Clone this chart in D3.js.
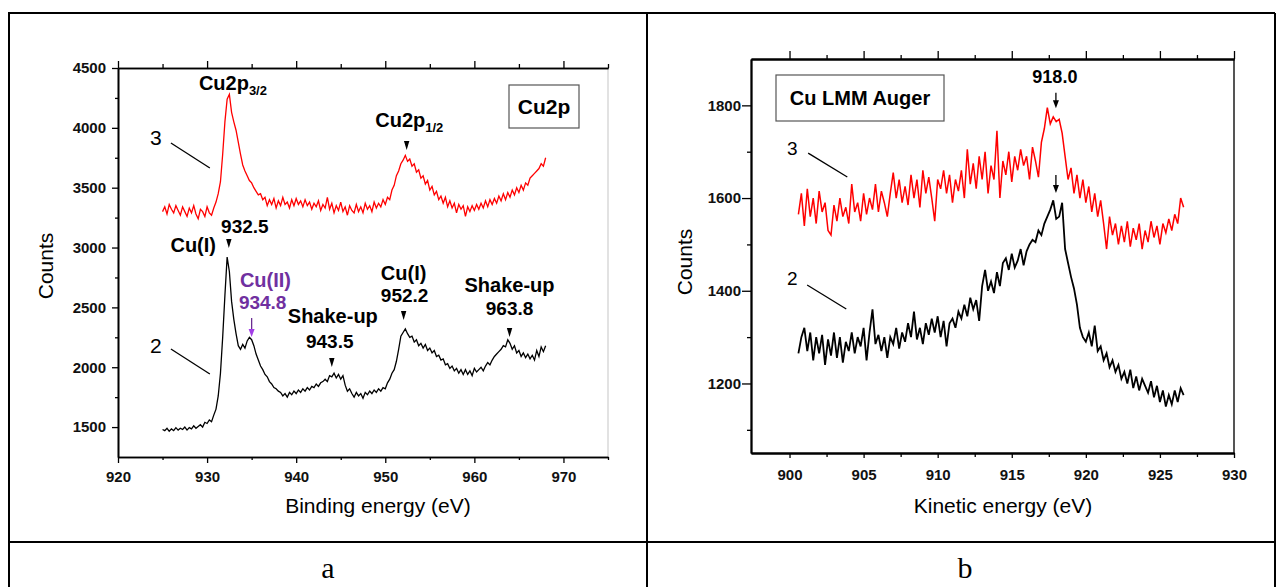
<!DOCTYPE html>
<html>
<head>
<meta charset="utf-8">
<script src="https://cdn.jsdelivr.net/npm/d3@7/dist/d3.min.js"></script>
<style>
  body { margin: 0; background: #fff; }
  svg { display: block; font-family: "Liberation Sans", Arial, sans-serif; }
</style>
</head>
<body>
<div id="container"></div>
<script>
const W = 1277;
const H = 587;
const FONT = '"Liberation Sans", Arial, sans-serif';

// panel a, Cu2p region: one row per eV, 0.25 eV step from 925 eV
const cu2pStart = 925;
const cu2pStep = 0.25;
const cu2pSample3 = [
  3300, 3340, 3280, 3360, // 925
  3320, 3290, 3350, 3310,
  3270, 3340, 3300, 3260,
  3330, 3290, 3350, 3280,
  3240, 3320, 3300, 3260,
  3340, 3290, 3270, 3330, // 930
  3380, 3450, 3550, 3780,
  4050, 4240, 4280, 4130,
  4050, 3980, 3880, 3780,
  3690, 3640, 3600, 3560,
  3540, 3500, 3470, 3440, // 935
  3450, 3400, 3420, 3350,
  3400, 3360, 3410, 3330,
  3390, 3350, 3420, 3360,
  3380, 3330, 3400, 3350,
  3410, 3360, 3390, 3340, // 940
  3400, 3350, 3380, 3320,
  3370, 3340, 3390, 3310,
  3360, 3330, 3420, 3320,
  3370, 3290, 3350, 3310,
  3380, 3300, 3340, 3270, // 945
  3350, 3310, 3290, 3360,
  3300, 3340, 3290, 3370,
  3320, 3350, 3300, 3380,
  3330, 3370, 3340, 3400,
  3360, 3420, 3400, 3480, // 950
  3520, 3600, 3640, 3700,
  3730, 3770, 3720, 3740,
  3680, 3700, 3630, 3650,
  3580, 3600, 3530, 3560,
  3480, 3510, 3440, 3470, // 955
  3400, 3430, 3370, 3420,
  3340, 3390, 3330, 3370,
  3290, 3360, 3320, 3350,
  3260, 3340, 3300, 3350,
  3310, 3360, 3320, 3370, // 960
  3330, 3390, 3340, 3400,
  3360, 3410, 3370, 3430,
  3390, 3450, 3400, 3460,
  3420, 3480, 3440, 3500,
  3460, 3520, 3480, 3540, // 965
  3520, 3580, 3600, 3620,
  3640, 3660, 3700, 3680,
  3750
];
const cu2pSample2 = [
  1480, 1470, 1490, 1465, // 925
  1485, 1470, 1495, 1475,
  1490, 1480, 1500, 1475,
  1495, 1485, 1510, 1490,
  1505, 1520, 1500, 1540,
  1530, 1560, 1545, 1600, // 930
  1650, 1760, 1950, 2250,
  2600, 2920, 2800, 2550,
  2400, 2280, 2180, 2150,
  2190, 2160, 2220, 2250,
  2230, 2180, 2110, 2060, // 935
  2010, 1980, 1940, 1920,
  1880, 1860, 1830, 1820,
  1800, 1790, 1760, 1780,
  1750, 1790, 1770, 1800,
  1780, 1810, 1790, 1820, // 940
  1800, 1830, 1810, 1840,
  1830, 1860, 1840, 1870,
  1880, 1900, 1880, 1930,
  1920, 1950, 1910, 1940,
  1900, 1930, 1850, 1800, // 945
  1820, 1780, 1750, 1790,
  1760, 1780, 1740, 1790,
  1770, 1800, 1780, 1810,
  1790, 1820, 1800, 1830,
  1820, 1870, 1900, 1950, // 950
  1980, 2050, 2150, 2260,
  2290, 2320, 2280, 2250,
  2260, 2210, 2230, 2180,
  2200, 2160, 2190, 2140,
  2160, 2120, 2140, 2090, // 955
  2100, 2060, 2070, 2020,
  2030, 1990, 2010, 1970,
  1990, 1950, 1980, 1940,
  1980, 1940, 1970, 1930,
  1990, 1960, 1980, 2000, // 960
  1970, 2010, 2040, 2020,
  2060, 2090, 2110, 2130,
  2150, 2180, 2170, 2230,
  2200, 2150, 2180, 2120,
  2140, 2090, 2120, 2080, // 965
  2110, 2070, 2100, 2060,
  2140, 2090, 2170, 2130,
  2180
];

// panel b, Cu LMM Auger: one row per eV, 0.2 eV step from 900.6 eV
const augerStart = 900.6;
const augerStep = 0.2;
const augerSample3 = [
  1565, 1610, 1540, 1620, 1560, // 900.6
  1600, 1545, 1615, 1570, 1590,
  1530, 1520, 1585, 1550, 1600,
  1560, 1580, 1545, 1630, 1570,
  1590, 1550, 1610, 1565, 1600, // 904.6
  1575, 1630, 1570, 1615, 1590,
  1560, 1610, 1655, 1600, 1640,
  1590, 1625, 1585, 1650, 1600,
  1640, 1580, 1660, 1610, 1645,
  1600, 1550, 1640, 1620, 1660, // 909.6
  1610, 1650, 1590, 1640, 1615,
  1660, 1600, 1705, 1630, 1675,
  1620, 1690, 1640, 1700, 1610,
  1670, 1640, 1745, 1600, 1680,
  1650, 1700, 1635, 1690, 1660, // 914.6
  1705, 1670, 1690, 1640, 1710,
  1680, 1645, 1720, 1750, 1795,
  1760, 1775, 1765, 1770, 1740,
  1690, 1640, 1665, 1610, 1650,
  1600, 1640, 1590, 1625, 1570, // 919.6
  1610, 1560, 1595, 1545, 1490,
  1560, 1520, 1545, 1500, 1540,
  1505, 1550, 1495, 1535, 1510,
  1545, 1490, 1530, 1505, 1550,
  1515, 1540, 1500, 1545, 1525, // 924.6
  1555, 1530, 1565, 1545, 1600,
  1580
];
const augerSample2 = [
  1265, 1300, 1320, 1270, 1310, // 900.6
  1250, 1300, 1265, 1305, 1240,
  1295, 1260, 1310, 1255, 1300,
  1245, 1290, 1270, 1310, 1265,
  1300, 1280, 1320, 1250, 1310, // 904.6
  1360, 1285, 1305, 1270, 1300,
  1255, 1300, 1285, 1320, 1275,
  1310, 1290, 1330, 1300, 1355,
  1295, 1320, 1285, 1330, 1305,
  1340, 1310, 1345, 1300, 1335, // 909.6
  1280, 1330, 1340, 1320, 1355,
  1340, 1370, 1345, 1385, 1360,
  1380, 1335, 1410, 1445, 1400,
  1420, 1395, 1440, 1410, 1460,
  1470, 1445, 1480, 1450, 1465, // 914.6
  1490, 1455, 1485, 1500, 1510,
  1505, 1530, 1520, 1545, 1560,
  1575, 1595, 1555, 1560, 1590,
  1490, 1460, 1430, 1405, 1370,
  1320, 1300, 1290, 1310, 1280, // 919.6
  1325, 1270, 1280, 1250, 1265,
  1235, 1250, 1225, 1240, 1210,
  1225, 1200, 1230, 1190, 1215,
  1185, 1210, 1195, 1180, 1205,
  1170, 1195, 1160, 1185, 1150, // 924.6
  1175, 1155, 1185, 1160, 1190,
  1175
];

// tick labels
const cu2pXTicks = [920, 930, 940, 950, 960, 970];
const cu2pXMinor = [925, 935, 945, 955, 965, 975];
const cu2pYTicks = [1500, 2000, 2500, 3000, 3500, 4000, 4500];
const cu2pYMinor = [1750, 2250, 2750, 3250, 3750, 4250];
const augerXTicks = [900, 905, 910, 915, 920, 925, 930];
const augerXMinor = [902.5, 907.5, 912.5, 917.5, 922.5, 927.5];
const augerYTicks = [1200, 1400, 1600, 1800];
const augerYMinor = [1100, 1300, 1500, 1700];

const fmt = d3.format("d");

function toPoints(values, start, step) {
  return values.map((c, i) => ({ e: start + i * step, c: c }));
}

const svg = d3
  .select("#container")
  .append("svg")
  .attr("width", W)
  .attr("height", H);

svg.append("rect").attr("width", W).attr("height", H).attr("fill", "#fff");

// table frame
const frame = svg.append("g").attr("stroke", "#000").attr("stroke-width", 2);
[[8, 13, 1275, 13], [8, 542, 1275, 542], [9, 13, 9, 587], [647, 13, 647, 587], [1275, 13, 1275, 587]]
  .forEach(l => frame.append("line").attr("x1", l[0]).attr("y1", l[1]).attr("x2", l[2]).attr("y2", l[3]));

svg.append("text").attr("x", 328).attr("y", 578).attr("text-anchor", "middle")
  .style("font-family", '"Liberation Serif", "Times New Roman", serif').style("font-size", "30px").text("a");
svg.append("text").attr("x", 965).attr("y", 578).attr("text-anchor", "middle")
  .style("font-family", '"Liberation Serif", "Times New Roman", serif').style("font-size", "30px").text("b");

function styleAxis(g, width) {
  g.attr("font-family", FONT).attr("font-size", 15).attr("font-weight", "bold");
  g.selectAll("path.domain").attr("stroke-width", width);
  g.selectAll(".tick line").attr("stroke-width", 1.3);
  g.selectAll(".tick text").attr("fill", "#111");
}

function tri(g, x, yTip, color) {
  g.append("path")
    .attr("d", `M${x - 2.7},${yTip - 9}L${x + 2.7},${yTip - 9}L${x},${yTip}Z`)
    .attr("fill", color);
}

function arrow(g, x, yTop, yTip, color, headColor) {
  g.append("line").attr("x1", x).attr("x2", x).attr("y1", yTop).attr("y2", yTip - 6)
    .attr("stroke", color).attr("stroke-width", 1.3);
  g.append("path")
    .attr("d", `M${x - 3},${yTip - 8}L${x + 3},${yTip - 8}L${x},${yTip}Z`)
    .attr("fill", headColor || color);
}

function label(g, x, y, text, opts) {
  const t = g.append("text").attr("x", x).attr("y", y)
    .attr("text-anchor", opts.anchor || "middle")
    .style("font-size", (opts.size || 20) + "px")
    .style("font-weight", opts.weight || "bold")
    .attr("fill", opts.color || "#000");
  t.append("tspan").text(text);
  if (opts.sub) {
    t.append("tspan").attr("dy", 5).style("font-size", "13px").text(opts.sub);
  }
  return t;
}

// ---------------- PANEL A ----------------
const xa = d3.scaleLinear().domain([920, 975]).range([118, 608]);
const ya = d3.scaleLinear().domain([1250, 4500]).range([457, 68]);
const pa = svg.append("g");

pa.append("line").attr("x1", 608).attr("x2", 608).attr("y1", 68).attr("y2", 457)
  .attr("stroke", "#e2e2e2").attr("stroke-width", 2);

const lineA = d3.line().x(d => xa(d.e)).y(d => ya(d.c));
pa.append("path").datum(toPoints(cu2pSample3, cu2pStart, cu2pStep))
  .attr("d", lineA).attr("fill", "none").attr("stroke", "#ff0000").attr("stroke-width", 1.3);
pa.append("path").datum(toPoints(cu2pSample2, cu2pStart, cu2pStep))
  .attr("d", lineA).attr("fill", "none").attr("stroke", "#000").attr("stroke-width", 1.3);

pa.append("g").attr("transform", "translate(0,457)")
  .call(d3.axisBottom(xa).tickValues(cu2pXTicks).tickFormat(fmt).tickSize(6).tickSizeOuter(0).tickPadding(8))
  .call(g => styleAxis(g, 1.6));
pa.append("g").attr("transform", "translate(0,457)")
  .call(d3.axisBottom(xa).tickValues(cu2pXMinor).tickSize(3).tickSizeOuter(0).tickFormat(""))
  .call(g => styleAxis(g, 1.6));
pa.append("g").attr("transform", "translate(0,68)")
  .call(d3.axisTop(xa).tickValues(cu2pXTicks).tickSize(7).tickSizeOuter(0).tickFormat(""))
  .call(g => styleAxis(g, 1.6));
pa.append("g").attr("transform", "translate(0,68)")
  .call(d3.axisTop(xa).tickValues(cu2pXMinor).tickSize(4).tickSizeOuter(0).tickFormat(""))
  .call(g => styleAxis(g, 1.6));
pa.append("g").attr("transform", "translate(118,0)")
  .call(d3.axisLeft(ya).tickValues(cu2pYTicks).tickFormat(fmt).tickSize(6).tickSizeOuter(0).tickPadding(6))
  .call(g => styleAxis(g, 1.6));
pa.append("g").attr("transform", "translate(118,0)")
  .call(d3.axisLeft(ya).tickValues(cu2pYMinor).tickSize(3).tickSizeOuter(0).tickFormat(""))
  .call(g => styleAxis(g, 1.6));

pa.append("text").attr("transform", "translate(53,266) rotate(-90)")
  .attr("text-anchor", "middle").style("font-size", "21px").text("Counts");
pa.append("text").attr("x", 378).attr("y", 513)
  .attr("text-anchor", "middle").style("font-size", "21px").text("Binding energy (eV)");

// legend box
pa.append("rect").attr("x", 509).attr("y", 85).attr("width", 70).attr("height", 43)
  .attr("fill", "#fff").attr("stroke", "#555").attr("stroke-width", 1.2);
label(pa, 544, 114, "Cu2p", { size: 21 });

// curve numbers
label(pa, xa(924.26), ya(3857), "3", { size: 21, weight: "normal" });
pa.append("line").attr("x1", xa(925.94)).attr("y1", ya(3873)).attr("x2", xa(930.31)).attr("y2", ya(3665))
  .attr("stroke", "#000").attr("stroke-width", 1.3);
label(pa, xa(924.26), ya(2119), "2", { size: 21, weight: "normal" });
pa.append("line").attr("x1", xa(925.94)).attr("y1", ya(2152)).attr("x2", xa(930.31)).attr("y2", ya(1943))
  .attr("stroke", "#000").attr("stroke-width", 1.3);

// peak annotations
label(pa, xa(932.9), ya(4316), "Cu2p", { size: 20, sub: "3/2" });
label(pa, xa(952.7), ya(4007), "Cu2p", { size: 20, sub: "1/2" });
tri(pa, xa(952.4), ya(3815), "#000");

label(pa, xa(934.24), ya(3122), "932.5", { size: 19 });
label(pa, xa(931.0), ya(2963), "Cu(I)", { size: 20, anchor: "end" });
tri(pa, xa(932.44), ya(2996), "#000");

label(pa, xa(933.68), ya(2670), "Cu(II)", { size: 20, anchor: "start", color: "#7030a0" });
label(pa, xa(933.57), ya(2487), "934.8", { size: 19, anchor: "start", color: "#7030a0" });
arrow(pa, xa(935.0), ya(2411), ya(2253), "#6a2c91", "#a23ee6");

label(pa, xa(939.06), ya(2370), "Shake-up", { size: 20, anchor: "start" });
label(pa, xa(943.77), ya(2161), "943.5", { size: 19 });
tri(pa, xa(944.0), ya(2002), "#000");

label(pa, xa(952.06), ya(2729), "Cu(I)", { size: 20 });
label(pa, xa(952.17), ya(2545), "952.2", { size: 19 });
tri(pa, xa(952.06), ya(2395), "#000");

label(pa, xa(963.95), ya(2629), "Shake-up", { size: 20 });
label(pa, xa(963.95), ya(2436), "963.8", { size: 19 });
tri(pa, xa(963.95), ya(2253), "#000");

// ---------------- PANEL B ----------------
const xb = d3.scaleLinear().domain([897.4, 930]).range([751, 1234]);
const yb = d3.scaleLinear().domain([1050, 1900]).range([453, 59]);
const pb = svg.append("g");

const lineB = d3.line().x(d => xb(d.e)).y(d => yb(d.c));
pb.append("path").datum(toPoints(augerSample3, augerStart, augerStep))
  .attr("d", lineB).attr("fill", "none").attr("stroke", "#ff0000").attr("stroke-width", 1.5);
pb.append("path").datum(toPoints(augerSample2, augerStart, augerStep))
  .attr("d", lineB).attr("fill", "none").attr("stroke", "#000").attr("stroke-width", 1.8);

pb.append("line").attr("x1", 1234).attr("x2", 1234).attr("y1", 59).attr("y2", 453)
  .attr("stroke", "#555").attr("stroke-width", 2);

pb.append("g").attr("transform", "translate(0,453)")
  .call(d3.axisBottom(xb).tickValues(augerXTicks).tickFormat(fmt).tickSize(5).tickSizeOuter(0).tickPadding(11))
  .call(g => styleAxis(g, 2.2));
pb.append("g").attr("transform", "translate(0,453)")
  .call(d3.axisBottom(xb).tickValues(augerXMinor).tickSize(4).tickSizeOuter(0).tickFormat(""))
  .call(g => styleAxis(g, 2.2));
pb.append("g").attr("transform", "translate(0,59)")
  .call(d3.axisTop(xb).tickValues(augerXTicks).tickSize(8).tickSizeOuter(0).tickFormat(""))
  .call(g => styleAxis(g, 1.8));
pb.append("g").attr("transform", "translate(0,59)")
  .call(d3.axisTop(xb).tickValues(augerXMinor).tickSize(4).tickSizeOuter(0).tickFormat(""))
  .call(g => styleAxis(g, 1.8));
pb.append("g").attr("transform", "translate(751,0)")
  .call(d3.axisLeft(yb).tickValues(augerYTicks).tickFormat(fmt).tickSize(9).tickSizeOuter(0).tickPadding(1))
  .call(g => styleAxis(g, 1.8));
pb.append("g").attr("transform", "translate(751,0)")
  .call(d3.axisLeft(yb).tickValues(augerYMinor).tickSize(4).tickSizeOuter(0).tickFormat(""))
  .call(g => styleAxis(g, 1.8));

pb.append("text").attr("transform", "translate(692,262) rotate(-90)")
  .attr("text-anchor", "middle").style("font-size", "21px").text("Counts");
pb.append("text").attr("x", 1003).attr("y", 513)
  .attr("text-anchor", "middle").style("font-size", "21px").text("Kinetic energy (eV)");

pb.append("rect").attr("x", 776).attr("y", 75).attr("width", 168).attr("height", 46)
  .attr("fill", "#fff").attr("stroke", "#555").attr("stroke-width", 1.2);
label(pb, 860, 105, "Cu LMM Auger", { size: 20 });

label(pb, xb(917.91), yb(1848), "918.0", { size: 18 });
arrow(pb, xb(917.98), yb(1827), yb(1794), "#000");
arrow(pb, xb(917.98), yb(1650), yb(1611), "#000");

label(pb, xb(900.18), yb(1693), "3", { size: 19, weight: "normal" });
pb.append("line").attr("x1", xb(901.26)).attr("y1", yb(1697)).attr("x2", xb(903.9)).attr("y2", yb(1645.5))
  .attr("stroke", "#000").attr("stroke-width", 1.3);
label(pb, xb(900.18), yb(1412), "2", { size: 19, weight: "normal" });
pb.append("line").attr("x1", xb(901.19)).attr("y1", yb(1412.5)).attr("x2", xb(903.83)).attr("y2", yb(1360.7))
  .attr("stroke", "#000").attr("stroke-width", 1.3);
</script>
</body>
</html>
